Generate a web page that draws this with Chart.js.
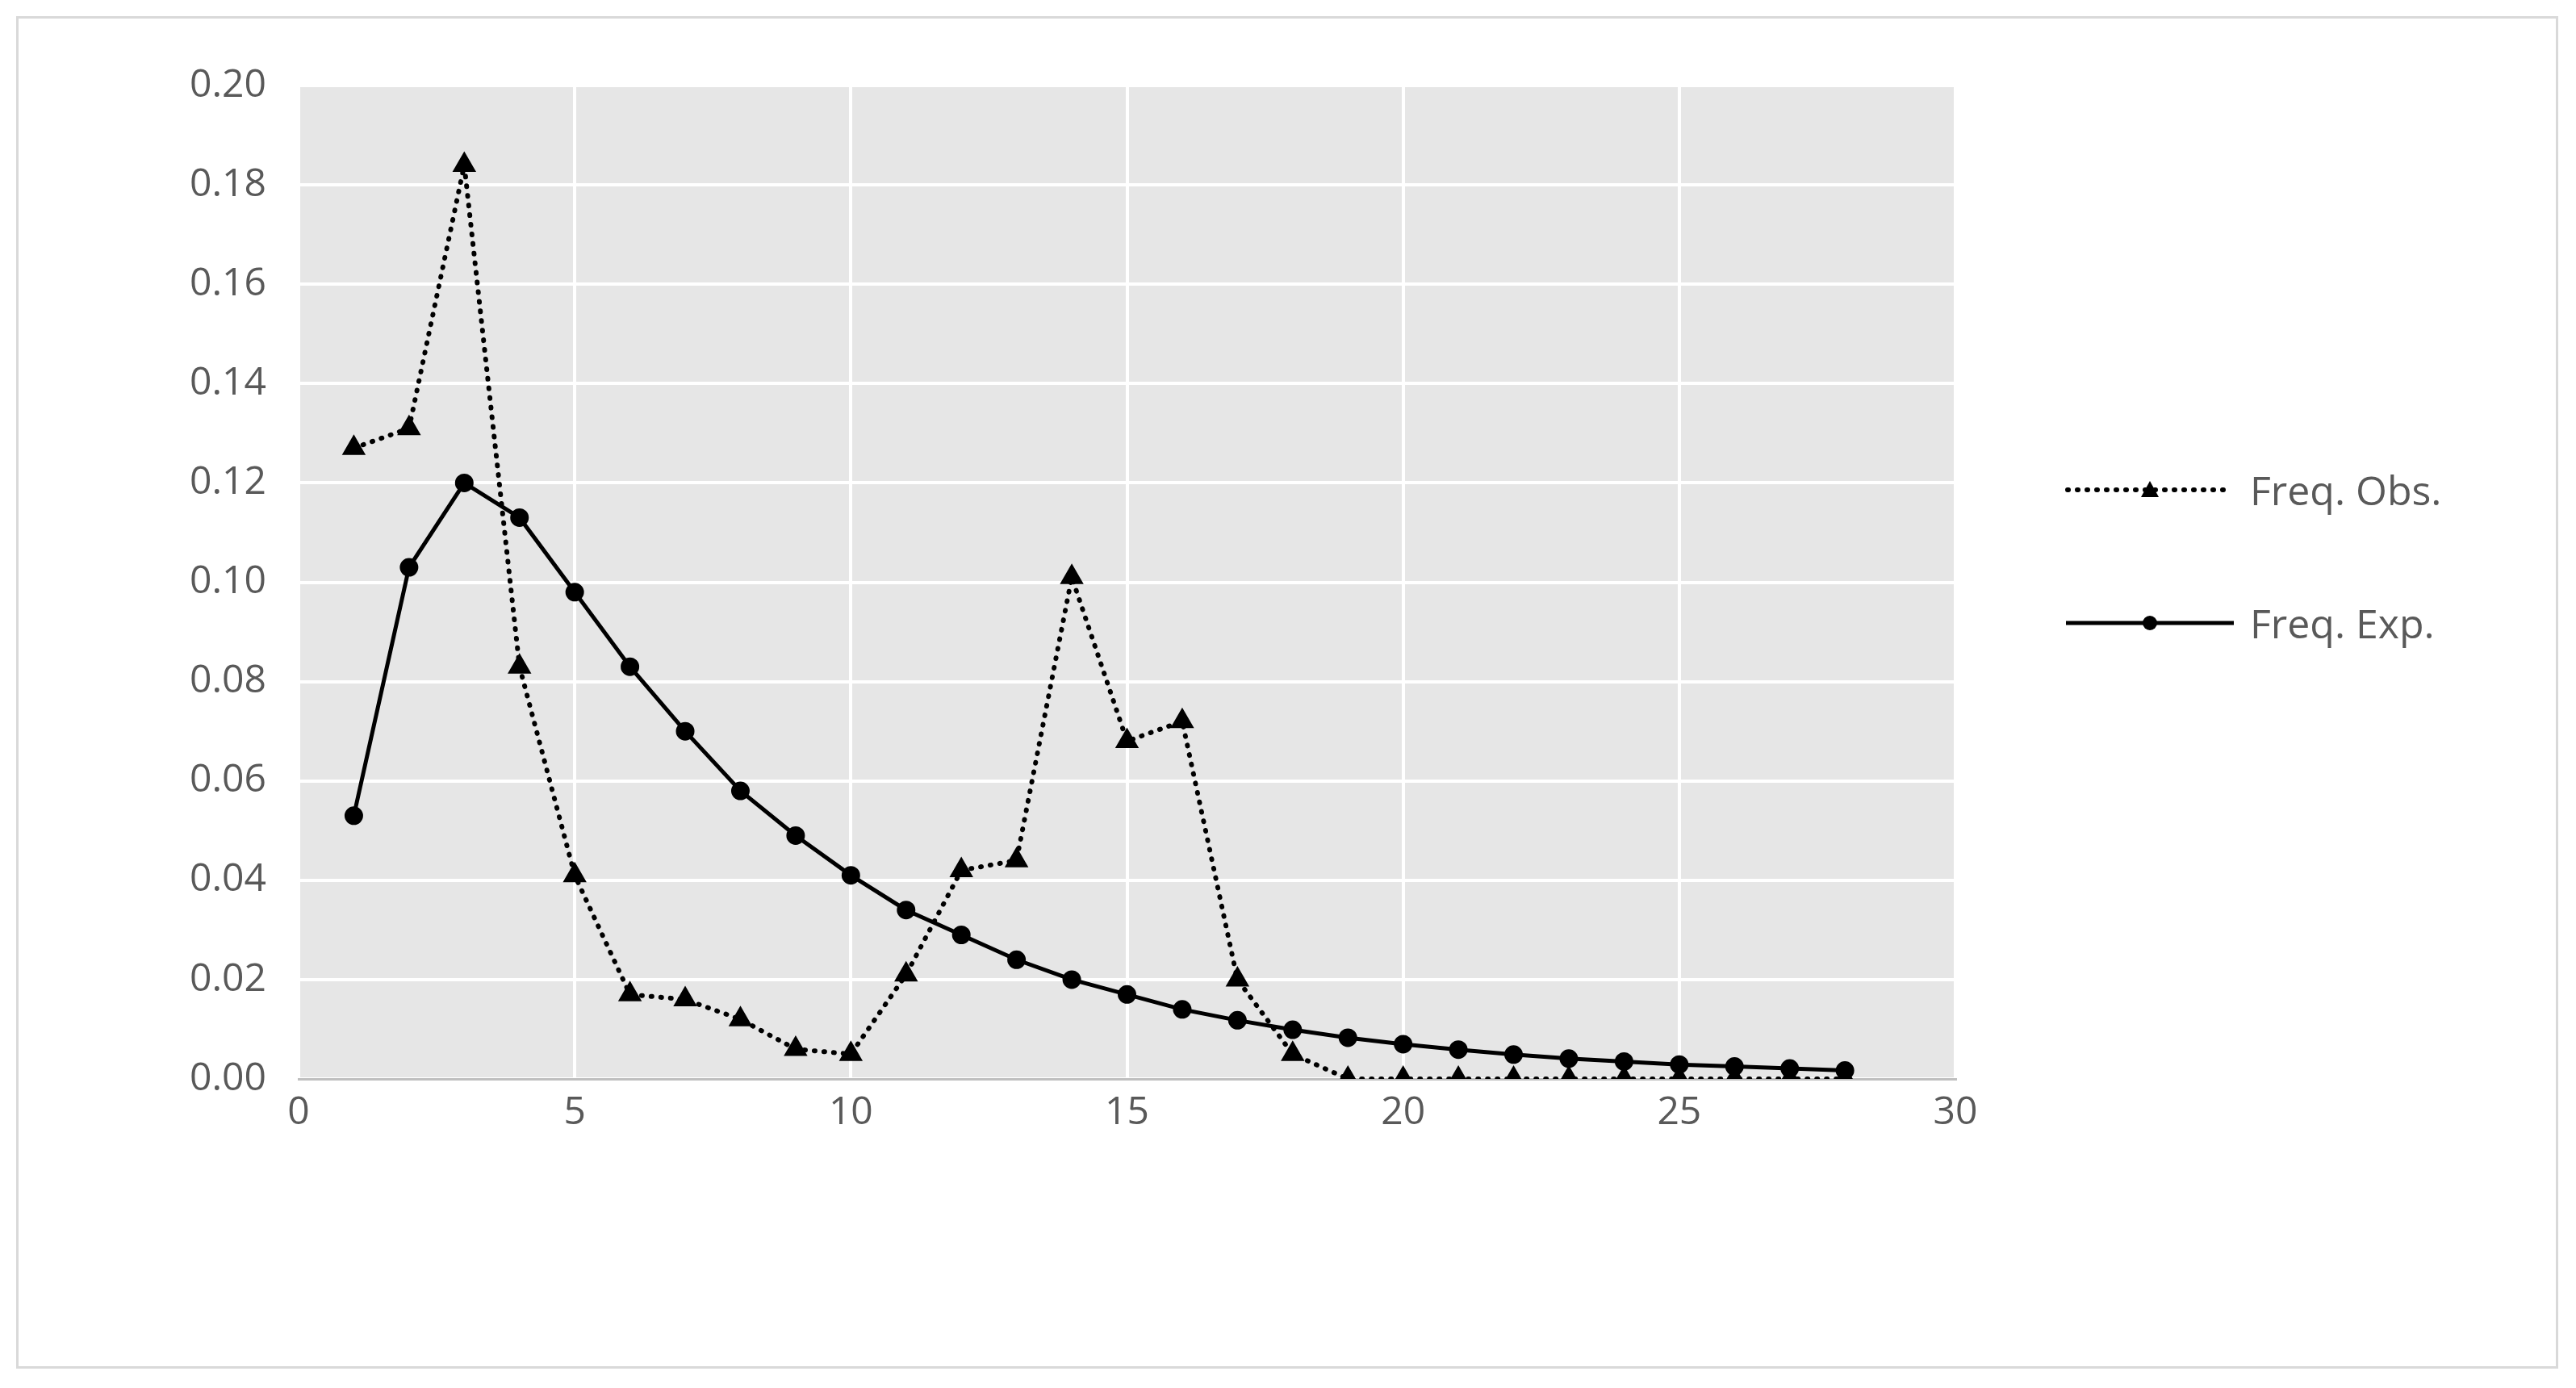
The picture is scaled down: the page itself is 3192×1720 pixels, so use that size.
<!DOCTYPE html>
<html>
<head>
<meta charset="utf-8">
<script src="https://cdn.jsdelivr.net/npm/chart.js@4.4.1/dist/chart.umd.min.js"></script>
<style>
  body { margin: 0; background: #fff; width: 3192px; height: 1720px; position: relative; overflow: hidden; }
  #frame { position: absolute; left: 20px; top: 20px; width: 3150px; height: 1676px; border: 3px solid #d9d9d9; box-sizing: border-box; }
  #wrap { position: absolute; left: 20px; top: 20px; width: 3150px; height: 1676px; }
  .leg { position: absolute; left: 2558px; font: 50px "Open Sans", sans-serif; color: #595959; display: flex; align-items: center; }
  .leg svg { margin-right: 18px; }
</style>
</head>
<body>
<div id="frame"></div>
<div id="wrap"><canvas id="c"></canvas></div>
<div class="leg" style="top:573px">
  <svg width="212" height="30"><line x1="4" y1="15" x2="208" y2="15" stroke="#000" stroke-width="6" stroke-dasharray="1 11" stroke-linecap="round"/><polygon points="106,4 117,24 95,24" fill="#000"/></svg>Freq. Obs.
</div>
<div class="leg" style="top:738px">
  <svg width="212" height="30"><line x1="2" y1="15" x2="210" y2="15" stroke="#000" stroke-width="5"/><circle cx="106" cy="15" r="9" fill="#000"/></svg>Freq. Exp.
</div>
<script>
const xValues = [1,2,3,4,5,6,7,8,9,10,11,12,13,14,15,16,17,18,19,20,21,22,23,24,25,26,27,28];
const freqObs = [0.127,0.131,0.184,0.083,0.041,0.017,0.016,0.012,0.006,0.005,0.021,0.042,0.044,0.101,0.068,0.072,0.020,0.005,0,0,0,0,0,0,0,0,0,0];
const freqExp = [0.053,0.103,0.120,0.113,0.098,0.083,0.070,0.058,0.049,0.041,0.034,0.029,0.024,0.020,0.017,0.014,0.0118,0.0099,0.0083,0.0070,0.0059,0.0049,0.0041,0.0035,0.0029,0.0025,0.0021,0.0017];

const plotBg = {
  id: 'plotBg',
  beforeDraw(chart) {
    const a = chart.chartArea, ctx = chart.ctx;
    ctx.save();
    ctx.fillStyle = '#e6e6e6';
    ctx.fillRect(a.left, a.top, a.right - a.left, a.bottom - a.top);
    ctx.restore();
  }
};

const font = { family: '"Open Sans", sans-serif', size: 48 };

new Chart(document.getElementById('c'), {
  type: 'line',
  data: {
    datasets: [{
      label: 'Freq. Obs.',
      data: xValues.map((x, i) => ({ x: x, y: freqObs[i] })),
      borderColor: '#000',
      backgroundColor: '#000',
      borderWidth: 6,
      borderDash: [1, 11],
      borderCapStyle: 'round',
      pointStyle: 'triangle',
      pointRadius: 11,
      tension: 0
    }, {
      label: 'Freq. Exp.',
      data: xValues.map((x, i) => ({ x: x, y: freqExp[i] })),
      borderColor: '#000',
      backgroundColor: '#000',
      borderWidth: 5,
      pointStyle: 'circle',
      pointRadius: 9,
      tension: 0
    }]
  },
  options: {
    responsive: true,
    maintainAspectRatio: false,
    animation: false,
    layout: { padding: { top: 86, right: 747, bottom: 269, left: 0 } },
    plugins: { legend: { display: false }, tooltip: { enabled: false } },
    scales: {
      x: {
        type: 'linear', min: 0, max: 30,
        ticks: { stepSize: 5, color: '#595959', font: font, padding: 14 },
        grid: { color: '#ffffff', lineWidth: 4, drawTicks: false },
        border: { color: '#bfbfbf', width: 3 },
        afterFit(s) { s.height = 90; }
      },
      y: {
        min: 0, max: 0.2,
        ticks: { stepSize: 0.02, color: '#595959', font: font, padding: 40, callback: v => v.toFixed(2) },
        grid: { color: '#ffffff', lineWidth: 4, drawTicks: false },
        border: { display: false },
        afterFit(s) { s.width = 350; }
      }
    }
  },
  plugins: [plotBg]
});
</script>
</body>
</html>
